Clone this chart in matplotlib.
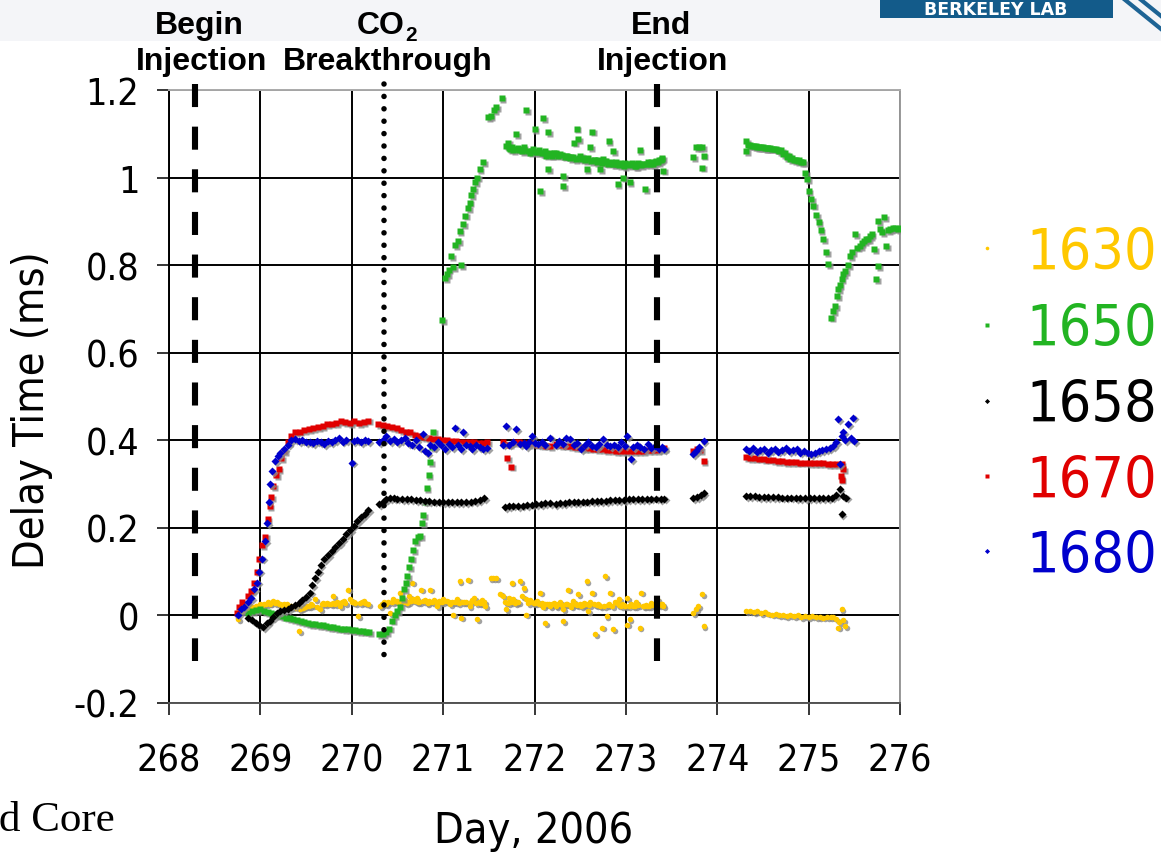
import matplotlib
matplotlib.use('Agg')
import matplotlib.pyplot as plt
from matplotlib import font_manager as fm
from matplotlib.lines import Line2D
from matplotlib.patches import Rectangle
import matplotlib.transforms as mtransforms

# ---------------- data ----------------
d1630 = [268.76, 268.80, 268.85, 268.89, 268.93, 268.97, 269.00, 269.04, 269.08, 269.11, 269.14, 269.18,
         269.22, 269.26, 269.29, 269.33, 269.37, 269.42, 269.43, 269.47, 269.51, 269.55, 269.60, 269.62,
         269.65, 269.69, 269.73, 269.77, 269.80, 269.84, 269.87, 269.91, 269.96, 269.98, 270.02, 270.07,
         270.09, 270.13, 270.18,
         270.31, 270.35, 270.38, 270.42, 270.45, 270.49, 270.53, 270.57, 270.60, 270.63, 270.66, 270.67,
         270.71, 270.74, 270.76, 270.80, 270.83, 270.86, 270.90, 270.93, 270.97, 271.00, 271.04, 271.08,
         271.11, 271.15, 271.18, 271.20, 271.23, 271.27, 271.29, 271.32, 271.34, 271.37, 271.40, 271.43,
         271.46,
         271.52, 271.55, 271.58, 271.62, 271.66, 271.69, 271.72, 271.75, 271.77, 271.80, 271.84, 271.86,
         271.88, 271.91, 271.91, 271.95, 271.99, 272.03, 272.06, 272.09, 272.12, 272.14, 272.17, 272.21,
         272.24, 272.28, 272.31, 272.31, 272.34, 272.37, 272.40, 272.42, 272.45, 272.48, 272.51, 272.54,
         272.57, 272.59, 272.61, 272.63, 272.66, 272.69, 272.72, 272.74, 272.77, 272.79, 272.81, 272.83,
         272.86, 272.88, 272.90, 272.93, 272.96, 272.99, 273.01, 273.01, 273.04, 273.06, 273.08, 273.11,
         273.15, 273.17, 273.20, 273.23, 273.27, 273.31, 273.34, 273.38, 273.41,
         273.74, 273.77, 273.79, 273.83, 273.85,
         274.32, 274.36, 274.40, 274.44, 274.48, 274.52, 274.56, 274.60, 274.64, 274.68, 274.72, 274.76,
         274.80, 274.84, 274.88, 274.92, 274.96, 275.00, 275.04, 275.08, 275.12, 275.16, 275.20, 275.24,
         275.27, 275.30, 275.32, 275.33, 275.36, 275.38, 275.40,
         # dense band
         268.82, 268.87, 268.91, 268.95, 269.02, 269.06, 269.10, 269.16, 269.20, 269.24, 269.28, 269.31,
         269.35, 269.39, 269.45, 269.49, 269.53, 269.57, 269.67, 269.71, 269.75, 269.79, 269.82, 269.86,
         269.89, 269.93, 270.00, 270.04, 270.11, 270.15, 270.33, 270.37, 270.40, 270.44, 270.47, 270.51,
         270.55, 270.59, 270.62, 270.65, 270.69, 270.72, 270.78, 270.82, 270.85, 270.88, 270.92, 270.95,
         270.99, 271.02, 271.06, 271.10, 271.13, 271.17, 271.21, 271.25, 271.30, 271.36, 271.39, 271.42,
         271.45, 271.68, 271.71, 271.74, 271.79, 271.82, 271.93, 271.97, 272.01, 272.05, 272.08, 272.11,
         272.16, 272.19, 272.23, 272.26, 272.30, 272.36, 272.39, 272.44, 272.47, 272.50, 272.53, 272.56,
         272.60, 272.65, 272.68, 272.71, 272.76, 272.80, 272.85, 272.92, 272.95, 272.98, 273.03, 273.07,
         273.10, 273.13, 273.19, 273.22, 273.25, 273.29, 273.33, 273.36, 273.40]
v1630 = [-0.009, 0.010, 0.015, 0.021, 0.018, 0.022, 0.025, 0.027, 0.030, 0.028, 0.033, 0.030,
         0.027, 0.025, 0.025, 0.022, 0.020, -0.036, 0.014, 0.018, 0.021, 0.025, 0.037, 0.020,
         0.014, 0.028, 0.029, 0.025, 0.044, 0.030, 0.021, 0.033, 0.059, 0.037, 0.030, -0.002,
         0.029, 0.033, 0.025,
         0.021, 0.030, 0.025, 0.006, 0.037, 0.033, 0.052, 0.030, 0.029, 0.045, 0.075, 0.037,
         0.040, 0.030, 0.059, 0.035, 0.028, 0.059, 0.035, 0.021, 0.030, 0.037, 0.033, 0.025,
         0.002, 0.037, 0.078, -0.005, 0.030, 0.082, 0.021, 0.035, 0.040, -0.009, 0.029, 0.035,
         0.021,
         0.085, 0.086, 0.086, 0.050, 0.044, 0.014, 0.040, 0.075, 0.037, 0.030, 0.078, 0.045,
         0.063, 0.037, 0.002, 0.035, 0.029, 0.033, 0.052, 0.020, -0.017, 0.025, 0.021, 0.028,
         0.022, 0.030, 0.014, -0.013, 0.025, 0.059, 0.020, 0.033, 0.025, 0.048, 0.022, 0.028,
         0.078, 0.010, 0.030, 0.052, -0.043, 0.025, 0.021, -0.028, 0.090, -0.002, 0.025, 0.052,
         -0.032, 0.030, 0.029, 0.037, 0.025, 0.022, 0.040, -0.021, -0.009, 0.025, 0.021, 0.030,
         -0.028, 0.052, 0.022, 0.021, 0.028, 0.025, 0.037, 0.025, 0.021,
         0.006, 0.015, 0.021, 0.048, -0.024,
         0.010, 0.009, 0.008, 0.010, 0.006, 0.008, 0.004, 0.002, 0.003, 0.000, 0.001, -0.002,
         0.000, -0.001, 0.001, -0.003, -0.002, -0.003, -0.002, -0.004, -0.003, -0.005, -0.004, -0.003,
         -0.003, -0.008, -0.028, -0.015, 0.015, -0.010, -0.024,
         0.012, 0.018, 0.020, 0.022, 0.024, 0.025, 0.027, 0.028, 0.026, 0.024, 0.022, 0.020,
         0.019, 0.018, 0.016, 0.020, 0.022, 0.024, 0.026, 0.025, 0.027, 0.028, 0.026, 0.028,
         0.030, 0.028, 0.030, 0.028, 0.030, 0.028, 0.025, 0.028, 0.030, 0.030, 0.032, 0.030,
         0.033, 0.032, 0.030, 0.034, 0.033, 0.031, 0.032, 0.030, 0.033, 0.031, 0.030, 0.032,
         0.030, 0.032, 0.030, 0.031, 0.030, 0.029, 0.030, 0.031, 0.030, 0.028, 0.030, 0.028,
         0.030, 0.030, 0.028, 0.030, 0.028, 0.030, 0.028, 0.030, 0.028, 0.027, 0.028, 0.026,
         0.025, 0.026, 0.024, 0.025, 0.024, 0.026, 0.024, 0.025, 0.024, 0.025, 0.024, 0.026,
         0.024, 0.025, 0.023, 0.024, 0.022, 0.024, 0.022, 0.024, 0.022, 0.024, 0.022, 0.024,
         0.022, 0.024, 0.022, 0.024, 0.022, 0.024, 0.026, 0.024, 0.026]

d1650 = [268.87, 268.91, 268.95, 269.00, 269.04, 269.08, 269.12, 269.16, 269.20, 269.24, 269.28, 269.32,
         269.36, 269.40, 269.44, 269.48, 269.52, 269.56, 269.60, 269.64, 269.68, 269.72, 269.76, 269.80,
         269.84, 269.88, 269.92, 269.96, 270.00, 270.04, 270.08, 270.12, 270.16, 270.19,
         270.30, 270.34, 270.38, 270.41, 270.44, 270.47, 270.50, 270.53, 270.55, 270.57, 270.59, 270.61,
         270.63, 270.65, 270.67, 270.69, 270.72, 270.75, 270.77, 270.78, 270.80, 270.82, 270.84, 270.86,
         270.88, 270.89,
         270.99, 271.02, 271.04, 271.06, 271.09, 271.11, 271.13, 271.16, 271.18, 271.20, 271.22, 271.24,
         271.27, 271.29, 271.31, 271.33, 271.35, 271.37, 271.40, 271.44,
         271.49, 271.52, 271.56, 271.58, 271.64,
         271.69, 271.71, 271.73, 271.75, 271.77, 271.80, 271.82, 271.84, 271.86, 271.88, 271.91, 271.93,
         271.95, 271.98, 272.00, 272.03, 272.06, 272.08, 272.09, 272.11, 272.13, 272.15, 272.15, 272.18,
         272.21, 272.24, 272.28, 272.31, 272.31, 272.34, 272.37, 272.40, 272.43, 272.46, 272.48, 272.50,
         272.53, 272.57, 272.59, 272.61, 272.63, 272.66, 272.70, 272.72, 272.75, 272.78, 272.81, 272.84,
         272.86, 272.86, 272.89, 272.91, 272.94, 272.97, 272.99, 273.01, 273.04, 273.07, 273.10, 273.13,
         273.15, 273.18, 273.21, 273.24, 273.27, 273.30, 273.33, 273.36, 273.39, 273.41,
         273.74, 273.77, 273.80, 273.83, 273.85, 273.83,
         274.32, 274.32, 274.36, 274.40, 274.44, 274.48, 274.52, 274.56, 274.60, 274.64, 274.68, 274.72,
         274.76, 274.80, 274.84, 274.88, 274.92, 274.96, 274.98, 275.00, 275.03, 275.05, 275.08, 275.11,
         275.13, 275.16, 275.19, 275.21,
         275.25, 275.27, 275.29, 275.31, 275.32, 275.34, 275.36, 275.38, 275.40, 275.43, 275.45, 275.48,
         275.51, 275.53, 275.56, 275.58, 275.61, 275.63, 275.65, 275.67, 275.69, 275.72, 275.74, 275.76,
         275.76, 275.78, 275.80, 275.83, 275.85, 275.87, 275.89, 275.92, 275.95, 275.98, 276.00,
         # dense band
         271.72, 271.78, 271.83, 271.89, 271.96, 272.02, 272.05, 272.10, 272.17, 272.19, 272.23, 272.26,
         272.30, 272.33, 272.36, 272.39, 272.42, 272.45, 272.49, 272.52, 272.55, 272.58, 272.62, 272.65,
         272.68, 272.71, 272.74, 272.77, 272.80, 272.83, 272.87, 272.90, 272.93, 272.96, 272.98, 273.02,
         273.05, 273.08, 273.11, 273.14, 273.17, 273.20, 273.23, 273.26, 273.29, 273.32, 273.35, 273.38,
         273.40, 274.34, 274.38, 274.42, 274.46, 274.50, 274.54, 274.58, 274.62, 274.66, 274.70, 274.74,
         274.78, 274.82, 274.86, 274.90, 274.94]
v1650 = [0.006, 0.010, 0.012, 0.014, 0.010, 0.007, 0.005, 0.003, 0.000, -0.002, -0.005, -0.007,
         -0.009, -0.011, -0.013, -0.015, -0.017, -0.019, -0.020, -0.022, -0.023, -0.024, -0.026, -0.027,
         -0.029, -0.030, -0.031, -0.032, -0.033, -0.034, -0.035, -0.036, -0.037, -0.038,
         -0.043, -0.042, -0.038, -0.030, -0.012, 0.000, 0.010, 0.020, 0.040, 0.060, 0.075, 0.090,
         0.110, 0.130, 0.150, 0.170, 0.180, 0.182, 0.210, 0.230, 0.260, 0.290, 0.320, 0.350,
         0.385, 0.420,
         0.675, 0.770, 0.780, 0.790, 0.820, 0.795, 0.845, 0.855, 0.878, 0.800, 0.894, 0.913,
         0.930, 0.943, 0.960, 0.974, 0.990, 1.000, 1.020, 1.035,
         1.138, 1.140, 1.155, 1.161, 1.182,
         1.073, 1.080, 1.065, 1.070, 1.062, 1.099, 1.068, 1.065, 1.061, 1.070, 1.155, 1.060,
         1.057, 1.065, 1.110, 1.058, 0.970, 1.055, 1.135, 1.060, 1.050, 1.103, 1.019, 1.052,
         1.057, 1.055, 1.054, 1.004, 0.981, 1.050, 1.048, 1.047, 1.080, 1.112, 1.088, 1.050,
         1.045, 1.019, 1.045, 1.069, 1.105, 1.040, 1.040, 1.019, 1.042, 1.038, 1.084, 1.035,
         1.061, 1.031, 1.035, 0.985, 1.033, 1.000, 1.033, 1.031, 0.989, 1.034, 1.027, 1.033,
         1.063, 1.032, 0.974, 1.035, 1.035, 1.031, 1.038, 1.040, 1.042, 1.016,
         1.046, 1.069, 1.070, 1.069, 1.050, 1.023,
         1.084, 1.061, 1.075, 1.072, 1.070, 1.069, 1.068, 1.067, 1.066, 1.065, 1.060, 1.053,
         1.046, 1.043, 1.040, 1.037, 1.035, 1.010, 0.997, 0.970, 0.950, 0.936, 0.915, 0.898,
         0.880, 0.859, 0.830, 0.802,
         0.680, 0.695, 0.707, 0.730, 0.745, 0.755, 0.768, 0.780, 0.787, 0.800, 0.821, 0.830,
         0.871, 0.840, 0.844, 0.850, 0.855, 0.859, 0.860, 0.867, 0.870, 0.837, 0.768, 0.798,
         0.901, 0.882, 0.875, 0.909, 0.844, 0.880, 0.882, 0.884, 0.884, 0.883, 0.884,
         1.068, 1.066, 1.064, 1.062, 1.060, 1.058, 1.062, 1.056, 1.055, 1.050, 1.053, 1.050,
         1.052, 1.048, 1.050, 1.045, 1.047, 1.043, 1.045, 1.042, 1.040, 1.042, 1.038, 1.040,
         1.036, 1.038, 1.034, 1.036, 1.032, 1.034, 1.030, 1.032, 1.028, 1.030, 1.027, 1.030,
         1.028, 1.030, 1.027, 1.030, 1.028, 1.030, 1.032, 1.030, 1.034, 1.036, 1.035, 1.040,
         1.045, 1.074, 1.073, 1.071, 1.070, 1.069, 1.068, 1.067, 1.066, 1.064, 1.062, 1.056,
         1.050, 1.045, 1.041, 1.039, 1.036]

d1658 = [268.87, 268.91, 268.95, 268.99, 269.03, 269.07, 269.10, 269.14, 269.18, 269.22, 269.26, 269.30,
         269.34, 269.38, 269.42, 269.46, 269.50, 269.54, 269.57, 269.60, 269.63, 269.66, 269.70, 269.74,
         269.78, 269.82, 269.86, 269.90, 269.94, 269.98, 270.02, 270.06, 270.10, 270.14, 270.18,
         270.30, 270.34, 270.38, 270.42, 270.46, 270.50, 270.55, 270.60, 270.65, 270.70, 270.75, 270.80,
         270.85, 270.90, 270.95, 271.00, 271.05, 271.10, 271.15, 271.20, 271.25, 271.30, 271.35, 271.40,
         271.45,
         271.68, 271.72, 271.77, 271.82, 271.87, 271.92, 271.97, 272.02, 272.07, 272.12, 272.17,
         272.23, 272.28, 272.33, 272.38, 272.43, 272.48, 272.53, 272.58, 272.63, 272.68, 272.73, 272.78,
         272.83, 272.88, 272.93, 272.98, 273.03, 273.08, 273.13, 273.18, 273.23, 273.28, 273.33, 273.38,
         273.42,
         273.74, 273.78, 273.82, 273.85,
         274.32, 274.36, 274.41, 274.46, 274.51, 274.56, 274.61, 274.66, 274.71, 274.76, 274.81, 274.86,
         274.91, 274.96, 275.01, 275.06, 275.11, 275.16, 275.21, 275.26, 275.30, 275.34, 275.38, 275.41,
         275.36]
v1658 = [-0.005, -0.010, -0.017, -0.022, -0.026, -0.018, -0.012, -0.003, 0.006, 0.010, 0.013, 0.015,
         0.020, 0.024, 0.029, 0.035, 0.042, 0.052, 0.070, 0.085, 0.100, 0.115, 0.128, 0.138,
         0.148, 0.157, 0.165, 0.175, 0.185, 0.195, 0.205, 0.215, 0.224, 0.232, 0.240,
         0.254, 0.260, 0.265, 0.268, 0.268, 0.267, 0.266, 0.266, 0.265, 0.264, 0.263, 0.262,
         0.261, 0.260, 0.260, 0.259, 0.259, 0.258, 0.258, 0.258, 0.259, 0.260, 0.261, 0.263,
         0.268,
         0.248, 0.250, 0.251, 0.250, 0.251, 0.252, 0.253, 0.254, 0.255, 0.256, 0.257,
         0.255, 0.256, 0.257, 0.258, 0.258, 0.259, 0.260, 0.260, 0.261, 0.261, 0.262, 0.262,
         0.263, 0.263, 0.264, 0.264, 0.265, 0.265, 0.265, 0.266, 0.266, 0.267, 0.267, 0.266,
         0.267,
         0.268, 0.270, 0.275, 0.280,
         0.273, 0.272, 0.272, 0.271, 0.271, 0.270, 0.270, 0.270, 0.269, 0.269, 0.269, 0.268,
         0.268, 0.268, 0.268, 0.268, 0.268, 0.268, 0.268, 0.269, 0.275, 0.288, 0.272, 0.269,
         0.231]

d1670 = [268.74, 268.77, 268.80, 268.87, 268.90, 268.93, 268.96, 268.99, 269.02, 269.05, 269.08, 269.10,
         269.12, 269.14, 269.17, 269.20, 269.23, 269.26, 269.30, 269.34, 269.38, 269.43, 269.48, 269.53,
         269.58, 269.63, 269.68, 269.73, 269.78, 269.83, 269.88, 269.93, 269.98, 270.03, 270.08, 270.13,
         270.18,
         270.29, 270.34, 270.39, 270.44, 270.49, 270.54, 270.59, 270.64, 270.69, 270.74, 270.79, 270.84,
         270.89, 270.94, 270.99, 271.04, 271.09, 271.14, 271.19, 271.24, 271.29, 271.34, 271.39, 271.44,
         271.48,
         271.66, 271.70, 271.74, 271.72, 271.78, 271.83, 271.88, 271.93, 271.98, 272.03, 272.08, 272.13,
         272.17,
         272.24, 272.29, 272.34, 272.39, 272.44, 272.49, 272.54, 272.59, 272.64, 272.69, 272.74, 272.79,
         272.84, 272.89, 272.94, 272.99, 273.04, 273.09, 273.14, 273.19, 273.24, 273.29, 273.34, 273.39,
         273.42,
         273.74, 273.78, 273.81, 273.85,
         274.32, 274.36, 274.41, 274.46, 274.51, 274.56, 274.61, 274.66, 274.71, 274.76, 274.81, 274.86,
         274.91, 274.96, 275.01, 275.06, 275.11, 275.16, 275.21, 275.26, 275.31, 275.36, 275.38, 275.35,
         275.36]
v1670 = [0.005, 0.020, 0.030, 0.045, 0.055, 0.075, 0.100, 0.130, 0.160, 0.180, 0.220, 0.250,
         0.270, 0.295, 0.320, 0.335, 0.360, 0.375, 0.395, 0.410, 0.418, 0.420, 0.423, 0.425,
         0.428, 0.430, 0.433, 0.437, 0.438, 0.440, 0.443, 0.442, 0.440, 0.443, 0.440, 0.442,
         0.445,
         0.437, 0.435, 0.432, 0.430, 0.428, 0.424, 0.420, 0.418, 0.413, 0.410, 0.407, 0.405,
         0.403, 0.402, 0.400, 0.400, 0.398, 0.398, 0.397, 0.396, 0.395, 0.395, 0.394, 0.393,
         0.395,
         0.395, 0.360, 0.340, 0.390, 0.395, 0.396, 0.393, 0.392, 0.393, 0.390, 0.389, 0.388,
         0.387,
         0.391, 0.389, 0.388, 0.386, 0.385, 0.384, 0.383, 0.382, 0.381, 0.380, 0.379, 0.378,
         0.377, 0.376, 0.376, 0.375, 0.375, 0.376, 0.375, 0.376, 0.377, 0.378, 0.378, 0.380,
         0.382,
         0.376, 0.380, 0.378, 0.353,
         0.362, 0.360, 0.359, 0.358, 0.357, 0.356, 0.355, 0.353, 0.352, 0.351, 0.350, 0.350,
         0.349, 0.349, 0.348, 0.348, 0.347, 0.347, 0.346, 0.346, 0.345, 0.345, 0.335, 0.318,
         0.310]

d1680 = [268.76, 268.79, 268.82, 268.86, 268.90, 268.93, 268.96, 268.99, 269.02, 269.05, 269.07, 269.09,
         269.11, 269.13, 269.16, 269.19, 269.22, 269.26, 269.30, 269.34, 269.38, 269.42, 269.46, 269.50,
         269.54, 269.58, 269.62, 269.66, 269.70, 269.74, 269.78, 269.82, 269.86, 269.90, 269.94, 270.00,
         270.02, 270.06, 270.10, 270.14, 270.18,
         270.30, 270.34, 270.38, 270.42, 270.46, 270.50, 270.54, 270.58, 270.62, 270.66, 270.70, 270.74,
         270.78, 270.80, 270.83, 270.86, 270.90, 270.94, 270.98, 271.02, 271.06, 271.10, 271.13, 271.16,
         271.20, 271.22, 271.25, 271.29, 271.32, 271.36, 271.40, 271.44, 271.48,
         271.66, 271.69, 271.72, 271.76, 271.80, 271.84, 271.88, 271.91, 271.94, 271.97, 272.00, 272.04,
         272.08, 272.12, 272.17,
         272.23, 272.27, 272.31, 272.35, 272.39, 272.43, 272.47, 272.51, 272.55, 272.59, 272.63, 272.67,
         272.71, 272.75, 272.79, 272.83, 272.87, 272.91, 272.95, 272.99, 273.01, 273.06, 273.08, 273.12,
         273.16, 273.20, 273.24, 273.28, 273.32, 273.36, 273.40, 273.42,
         273.74, 273.77, 273.80, 273.85,
         274.32, 274.35, 274.39, 274.43, 274.47, 274.51, 274.55, 274.59, 274.63, 274.67, 274.71, 274.75,
         274.79, 274.83, 274.87, 274.91, 274.95, 274.99, 275.03, 275.07, 275.11, 275.15, 275.19, 275.23,
         275.27, 275.30, 275.32, 275.34, 275.36, 275.38, 275.40, 275.43, 275.46, 275.49, 275.50]
v1680 = [0.002, 0.015, 0.020, 0.030, 0.040, 0.060, 0.075, 0.100, 0.130, 0.170, 0.210, 0.260,
         0.300, 0.330, 0.352, 0.365, 0.372, 0.380, 0.390, 0.400, 0.402, 0.398, 0.400, 0.395,
         0.396, 0.393, 0.398, 0.395, 0.392, 0.398, 0.396, 0.400, 0.405, 0.397, 0.400, 0.349,
         0.398, 0.400, 0.396, 0.401, 0.398,
         0.395, 0.400, 0.410, 0.398, 0.402, 0.396, 0.400, 0.405, 0.394, 0.390, 0.400, 0.385,
         0.414, 0.376, 0.370, 0.390, 0.385, 0.395, 0.390, 0.380, 0.392, 0.385, 0.429, 0.390,
         0.380, 0.418, 0.390, 0.387, 0.380, 0.390, 0.384, 0.379, 0.383,
         0.390, 0.433, 0.390, 0.395, 0.425, 0.391, 0.393, 0.387, 0.395, 0.410, 0.393, 0.392,
         0.396, 0.390, 0.406,
         0.390, 0.398, 0.392, 0.405, 0.402, 0.390, 0.394, 0.380, 0.390, 0.395, 0.388, 0.385,
         0.392, 0.402, 0.390, 0.386, 0.390, 0.385, 0.395, 0.388, 0.410, 0.357, 0.385, 0.390,
         0.385, 0.380, 0.392, 0.382, 0.387, 0.380, 0.385, 0.379,
         0.368, 0.375, 0.385, 0.398,
         0.380, 0.375, 0.382, 0.374, 0.378, 0.380, 0.372, 0.378, 0.380, 0.374, 0.377, 0.382,
         0.375, 0.378, 0.380, 0.372, 0.376, 0.370, 0.368, 0.372, 0.375, 0.378, 0.380, 0.383,
         0.387, 0.395, 0.448, 0.345, 0.410, 0.418, 0.400, 0.437, 0.405, 0.452, 0.398]

series_names = ['1630', '1650', '1658', '1670', '1680']
series_colors = ['#FFC800', '#22B422', '#000000', '#E00000', '#0000CC']
series_markers = ['o', 's', 'D', 's', 'D']
series_sizes = [4.0, 4.8, 4.0, 4.8, 4.4]

x_ticks = [268, 269, 270, 271, 272, 273, 274, 275, 276]
y_ticks = [-0.2, 0.0, 0.2, 0.4, 0.6, 0.8, 1.0, 1.2]
y_tick_labels = ['-0.2', '0', '0.2', '0.4', '0.6', '0.8', '1', '1.2']

event_days = [268.284, 270.356, 273.34]
event_styles = ['dashed', 'dotted', 'dashed']
event_bottoms = [-0.105, -0.093, -0.105]
event_top = 1.214

# ---------------- fonts ----------------
names = {f.name for f in fm.fontManager.ttflist}
has_cond = any(f.name == 'DejaVu Sans' and f.stretch == 'condensed' for f in fm.fontManager.ttflist)
has_narrow = 'Liberation Sans Narrow' in names
stretch = 'condensed' if has_cond else 'normal'
tick_fs = 27 if has_cond else 24.5
lab_fs = 31 if has_cond else 28
leg_fs = 41 if has_cond else 35
sans = dict(family='DejaVu Sans', stretch=stretch)
if has_narrow:
    ann = dict(family='Liberation Sans Narrow', weight='bold', size=25)
    sub_fs = 16
else:
    ann = dict(family='Liberation Sans', weight='bold', size=23)
    sub_fs = 15

plt.rcParams['lines.scale_dashes'] = False

W, H = 1161, 853
fig = plt.figure(figsize=(W / 100, H / 100), dpi=100)
fig.patch.set_facecolor('white')


def fx(px):
    return px / W


def fy(py):
    return 1 - py / H


# light band at the top of the slide
fig.add_artist(Rectangle((0, fy(42)), 1, 42 / H, transform=fig.transFigure,
                         facecolor='#f4f5f8', edgecolor='none', zorder=0))

ax = fig.add_axes([fx(169), fy(704), fx(900) - fx(169), fy(91) - fy(704)])
ax.set_xlim(268, 276)
ax.set_ylim(-0.2, 1.2)
ax.set_xticks(x_ticks)
ax.set_xticklabels([str(t) for t in x_ticks], **sans)
ax.set_yticks(y_ticks)
ax.set_yticklabels(y_tick_labels, **sans)
ax.tick_params(axis='both', direction='out', length=8.3, width=1.1, colors='black',
               labelsize=tick_fs)
ax.tick_params(axis='x', pad=20)
ax.tick_params(axis='y', pad=13)
ax.grid(True, color='black', lw=1.4)
ax.set_axisbelow(True)
ax.spines['left'].set_color('black')
ax.spines['bottom'].set_color('#555555')
ax.spines['top'].set_color('#aaaaaa')
ax.spines['right'].set_color('#999999')
for s in ax.spines.values():
    s.set_linewidth(1.4)

all_d = [d1630, d1650, d1658, d1670, d1680]
all_v = [v1630, v1650, v1658, v1670, v1680]
shadow = mtransforms.offset_copy(ax.transData, fig=fig, x=1.8, y=-1.8, units='dots')
for i in range(5):
    ax.plot(all_d[i], all_v[i], ls='none', marker=series_markers[i], ms=series_sizes[i],
            color='#8a8a8a', mec='none', alpha=0.8, transform=shadow, zorder=2 + i)
    ax.plot(all_d[i], all_v[i], ls='none', marker=series_markers[i], ms=series_sizes[i],
            color=series_colors[i], mec='none', zorder=2.5 + i)

for xd, st, yb in zip(event_days, event_styles, event_bottoms):
    if st == 'dashed':
        ax.plot([xd, xd], [event_top, yb], color='black', lw=4.4, dashes=(16.6, 14.1),
                solid_capstyle='butt', dash_capstyle='butt', clip_on=False, zorder=10)
    else:
        ax.plot([xd, xd], [event_top, yb], color='black', lw=4.0, dashes=(0.01, 8.92),
                dash_capstyle='round', clip_on=False, zorder=10)

fig.text(fx(534), fy(843), 'Day, 2006', ha='center', va='baseline', fontsize=lab_fs, **sans)
fig.text(fx(32), fy(410), 'Delay Time (ms)', ha='center', va='center', rotation=90,
         fontsize=lab_fs, **sans)

# event annotations
fig.text(fx(199), fy(34), 'Begin', ha='center', va='baseline', **ann)
fig.text(fx(202), fy(70), 'Injection', ha='center', va='baseline', **ann)
fig.text(fx(381), fy(34), 'CO', ha='center', va='baseline', **ann)
fig.text(fx(405), fy(41), '2', ha='left', va='baseline', family=ann['family'],
         weight='bold', size=sub_fs)
fig.text(fx(388), fy(70), 'Breakthrough', ha='center', va='baseline', **ann)
fig.text(fx(661), fy(34), 'End', ha='center', va='baseline', **ann)
fig.text(fx(663), fy(70), 'Injection', ha='center', va='baseline', **ann)

# legend
leg_base = [270, 346.5, 422.5, 498, 573]
for i in range(5):
    yb = leg_base[i]
    fig.add_artist(Line2D([fx(987)], [fy(yb - 21)], transform=fig.transFigure, ls='none',
                          marker=series_markers[i], ms=2.6, color=series_colors[i], mec='none'))
    fig.text(fx(1026), fy(yb), series_names[i], color=series_colors[i], ha='left',
             va='baseline', fontsize=leg_fs, **sans)

# logo fragment and slide text
fig.add_artist(Rectangle((fx(880), fy(19)), fx(1113) - fx(880), 19 / H, transform=fig.transFigure,
                         facecolor='#135b8a', edgecolor='none', zorder=1))
fig.text(fx(996), fy(15), 'BERKELEY LAB', color='white', ha='center', va='baseline',
         family='DejaVu Sans', stretch='normal', fontsize=12.5, weight='bold', zorder=2)
fig.add_artist(Line2D([fx(1124), fx(1161)], [fy(0), fy(30)], transform=fig.transFigure,
                      color='#1d6394', lw=3))
fig.add_artist(Line2D([fx(1140), fx(1161)], [fy(0), fy(17)], transform=fig.transFigure,
                      color='#1d6394', lw=3))
fig.text(fx(-1), fy(831), 'd Core', ha='left', va='baseline', family='Liberation Serif',
         fontsize=31)

fig.savefig('out.png', dpi=100)
